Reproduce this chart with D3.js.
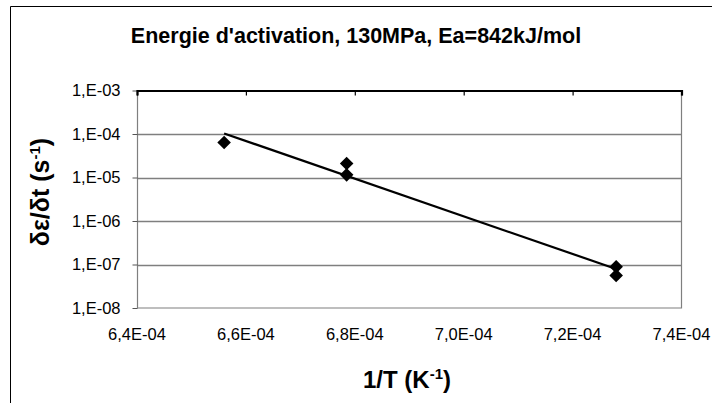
<!DOCTYPE html>
<html>
<head>
<meta charset="utf-8">
<script src="https://cdn.jsdelivr.net/npm/d3@7"></script>
<style>
  body { margin: 0; background: #fff; }
  svg { display: block; font-family: "Liberation Sans", Arial, sans-serif; }
</style>
</head>
<body>
<div id="chart"></div>
<script>
// Data
const invT = [6.56e-4, 6.785e-4, 6.785e-4, 7.28e-4, 7.28e-4];   // 1/T (K^-1)
const rate = [6.35e-5, 2.1e-5, 1.15e-5, 8.9e-8, 5.6e-8];        // strain rate (s^-1)
const xTicks = [6.4e-4, 6.6e-4, 6.8e-4, 7.0e-4, 7.2e-4, 7.4e-4];
const yTicks = [1e-3, 1e-4, 1e-5, 1e-6, 1e-7, 1e-8];

const w = 712;
const h = 403;
const margin = { top: 90.5, right: 30.5, bottom: 95, left: 137 };

const svg = d3.select("#chart")
    .append("svg")
    .attr("width", w)
    .attr("height", h);

// outer chart border (only left and top visible)
svg.append("path")
    .attr("d", `M10.5,${h} V6.5 H${w}`)
    .attr("fill", "none")
    .attr("stroke", "#000")
    .attr("stroke-width", 1);

const xScale = d3.scaleLinear()
    .domain([6.4e-4, 7.4e-4])
    .range([margin.left, w - margin.right]);

const yScale = d3.scaleLog()
    .domain([1e-8, 1e-3])
    .range([h - margin.bottom, margin.top]);

// format like "6,4E-04" and "1,E-03"
const fmtX = v => {
    const e = Math.floor(Math.log10(v) + 1e-9);
    const m = v / Math.pow(10, e);
    const exp = (e < 0 ? "-" : "+") + String(Math.abs(e)).padStart(2, "0");
    return m.toFixed(1).replace(".", ",") + "E" + exp;
};
const fmtY = v => {
    const e = Math.round(Math.log10(v));
    return "1,E" + (e < 0 ? "-" : "+") + String(Math.abs(e)).padStart(2, "0");
};

// gridlines
svg.append("g")
    .selectAll("line")
    .data(yTicks.slice(1, -1))
    .join("line")
    .attr("x1", margin.left)
    .attr("x2", w - margin.right)
    .attr("y1", d => Math.round(yScale(d)) + 0.5)
    .attr("y2", d => Math.round(yScale(d)) + 0.5)
    .attr("stroke", "#7f7f7f")
    .attr("stroke-width", 1.3);

// plot area border (grey)
svg.append("path")
    .attr("d", `M${margin.left + 0.5},${margin.top} V${h - margin.bottom} H${w - margin.right} V${margin.top}`)
    .attr("fill", "none")
    .attr("stroke", "#7f7f7f")
    .attr("stroke-width", 1.2);

// y axis
const yAxis = d3.axisLeft(yScale)
    .tickValues(yTicks)
    .tickFormat(fmtY)
    .tickSize(5)
    .tickPadding(12);

const gy = svg.append("g")
    .attr("transform", `translate(${margin.left + 0.5},0)`)
    .call(yAxis);
gy.select(".domain").remove();
gy.selectAll(".tick line").attr("stroke", "#555");
gy.selectAll("text")
    .attr("font-size", 16.5)
    .attr("fill", "#000")
    .attr("font-family", "Liberation Sans, Arial, sans-serif");

// x axis sits on top of the plot, ticks pointing down, labels below plot
const xAxis = d3.axisBottom(xScale)
    .tickValues(xTicks)
    .tickFormat("")
    .tickSizeOuter(0)
    .tickSize(5);

const gx = svg.append("g")
    .attr("transform", `translate(0,${margin.top})`)
    .call(xAxis);
gx.select(".domain")
    .attr("stroke", "#000")
    .attr("stroke-width", 2.2);
gx.selectAll(".tick line")
    .attr("stroke", "#000")
    .attr("stroke-width", 1.2);

svg.append("g")
    .selectAll("text")
    .data(xTicks)
    .join("text")
    .attr("x", d => xScale(d))
    .attr("y", h - margin.bottom + 32)
    .attr("text-anchor", "middle")
    .attr("font-size", 16.5)
    .text(fmtX);

// exponential trendline (least squares on log10 of rate)
const lx = invT;
const ly = rate.map(Math.log10);
const mx = d3.mean(lx);
const my = d3.mean(ly);
const slope = d3.sum(lx, (x, i) => (x - mx) * (ly[i] - my)) / d3.sum(lx, x => (x - mx) * (x - mx));
const icpt = my - slope * mx;
const trend = d3.extent(invT).map(x => ({ x: x, y: Math.pow(10, icpt + slope * x) }));

const lineFun = d3.line()
    .x(d => xScale(d.x))
    .y(d => yScale(d.y));

svg.append("path")
    .datum(trend)
    .attr("d", lineFun)
    .attr("fill", "none")
    .attr("stroke", "#000")
    .attr("stroke-width", 2.2);

// markers
const diamond = d3.symbol(d3.symbolSquare, 92);
svg.append("g")
    .selectAll("path")
    .data(invT.map((x, i) => ({ x: x, y: rate[i] })))
    .join("path")
    .attr("d", diamond)
    .attr("transform", d => `translate(${xScale(d.x)},${yScale(d.y)}) rotate(45)`)
    .attr("fill", "#000");

// titles
svg.append("text")
    .attr("x", 356)
    .attr("y", 43)
    .attr("text-anchor", "middle")
    .attr("font-size", 21.5)
    .attr("font-weight", "bold")
    .text("Energie d'activation, 130MPa, Ea=842kJ/mol");

const xt = svg.append("text")
    .attr("x", 407)
    .attr("y", 388)
    .attr("text-anchor", "middle")
    .attr("font-size", 24)
    .attr("font-weight", "bold");
xt.append("tspan").text("1/T (K");
xt.append("tspan").attr("font-size", 15).attr("dy", -9).text("-1");
xt.append("tspan").attr("dy", 9).text(")");

const yt = svg.append("text")
    .attr("transform", "translate(49,192) rotate(-90)")
    .attr("text-anchor", "middle")
    .attr("font-size", 25)
    .attr("font-weight", "bold");
yt.append("tspan").text("δε/δt (s");
yt.append("tspan").attr("font-size", 15).attr("dy", -9).text("-1");
yt.append("tspan").attr("dy", 9).text(")");
</script>
</body>
</html>
